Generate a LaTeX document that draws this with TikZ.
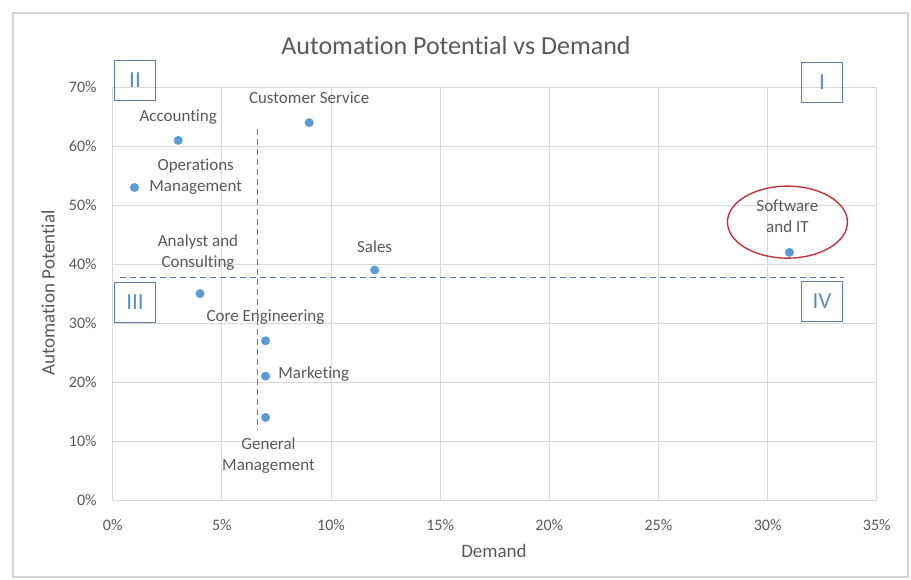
\documentclass[tikz,border=0pt]{standalone}
\usepackage{fontspec}
\setmainfont{Carlito}[Ligatures=NoCommon]
\usepackage{tikz}
\usetikzlibrary{positioning, calc}
\definecolor{dotblue}{HTML}{5B9BD5}
\definecolor{txtgray}{HTML}{595959}
\definecolor{gridgray}{HTML}{D9D9D9}
\definecolor{framegray}{HTML}{D4D4D4}
\definecolor{boxblue}{HTML}{5A7FA8}
\definecolor{quadblue}{HTML}{5B8FCB}
\definecolor{splitblue}{HTML}{4F7FB8}
\definecolor{ringred}{HTML}{C8323A}
\tikzstyle{datadot}=[circle,fill=dotblue,inner sep=0pt,minimum size=9pt]
\tikzstyle{ptlabel}=[inner sep=0pt,text depth=0pt,align=center,text=txtgray,
font=\fontsize{17}{21}\selectfont]
\tikzstyle{ticklabel}=[inner sep=0pt,text=txtgray,font=\fontsize{16}{18}\selectfont]
\tikzstyle{axistitle}=[inner sep=0pt,text=txtgray,font=\fontsize{19}{21}\selectfont]
\tikzstyle{quadbox}=[rectangle,draw=boxblue,line width=1pt,minimum width=41pt,
minimum height=40pt,inner sep=0pt,text=quadblue,font=\fontsize{23}{25}\selectfont]
\tikzstyle{splitline}=[splitblue,line width=1pt,dash pattern=on 6pt off 4pt]
\tikzstyle{gridline}=[gridgray,line width=1pt]

\begin{document}
\begin{tikzpicture}[x=1pt,y=-1pt]
    \useasboundingbox (0,0) rectangle (911,580);
    \draw[framegray,line width=2pt] (13,13) rectangle (908,577);
    
    \node[text=txtgray,inner sep=0pt,font=\fontsize{26}{28}\selectfont] (title) at (456,46) {Automation Potential vs Demand};
    \node[axistitle,rotate=90] (ytitle) at (48,293) {Automation Potential};
    \node[axistitle] (xtitle) at (494,551) {Demand};
    
    % plot area: 0..35% demand, 0..70% automation
    \begin{scope}[shift={(112.7,500)},x=21.83pt,y=5.896pt]
    \draw[gridline] (0,0) grid[xstep=5,ystep=10] (35,70);
    
    \node[ticklabel,anchor=east] (y0) at (-0.73,0) {0\%};
    \node[ticklabel,anchor=east] (y10) at (-0.73,10) {10\%};
    \node[ticklabel,anchor=east] (y20) at (-0.73,20) {20\%};
    \node[ticklabel,anchor=east] (y30) at (-0.73,30) {30\%};
    \node[ticklabel,anchor=east] (y40) at (-0.73,40) {40\%};
    \node[ticklabel,anchor=east] (y50) at (-0.73,50) {50\%};
    \node[ticklabel,anchor=east] (y60) at (-0.73,60) {60\%};
    \node[ticklabel,anchor=east] (y70) at (-0.73,70) {70\%};
    
    \node[ticklabel] (x0) at (0,-4.2) {0\%};
    \node[ticklabel] (x5) at (5,-4.2) {5\%};
    \node[ticklabel] (x10) at (10,-4.2) {10\%};
    \node[ticklabel] (x15) at (15,-4.2) {15\%};
    \node[ticklabel] (x20) at (20,-4.2) {20\%};
    \node[ticklabel] (x25) at (25,-4.2) {25\%};
    \node[ticklabel] (x30) at (30,-4.2) {30\%};
    \node[ticklabel] (x35) at (35,-4.2) {35\%};
    
    % quadrant split lines
    \coordinate (vtop) at (6.65,63);
    \coordinate (vbot) at (6.65,11.9);
    \coordinate (hleft) at (0.33,37.7);
    \coordinate (hright) at (33.5,37.7);
    \draw[splitline] (vtop) -- (vbot);
    \draw[splitline] (hleft) -- (hright);
    
    \node[datadot] (acc) at (3,61) {};
    \node[datadot] (cs) at (9,64) {};
    \node[datadot] (om) at (1,53) {};
    \node[datadot] (ac) at (4,35) {};
    \node[datadot] (sales) at (12,39) {};
    \node[datadot] (sit) at (31,42) {};
    \node[datadot] (ce) at (7,27) {};
    \node[datadot] (mkt) at (7,21) {};
    \node[datadot] (gm) at (7,14) {};
    
    \node[ptlabel, above=14pt of acc] (accl) {Accounting};
    \node[ptlabel, above=14pt of cs] (csl) {Customer Service};
    \node[ptlabel, right=10pt of om, yshift=12.5pt] (oml) {Operations\\Management};
    \node[ptlabel, above=21pt of ac, xshift=-2pt] (acl) {Analyst and\\Consulting};
    \node[ptlabel, above=13pt of sales] (salesl) {Sales};
    \node[ptlabel, above=15pt of sit, xshift=-2pt] (sitl) {Software\\and IT};
    \node[ptlabel, above=14pt of ce] (cel) {Core Engineering};
    \node[ptlabel, right=8pt of mkt, yshift=4pt] (mktl) {Marketing};
    \node[ptlabel, below=15pt of gm, xshift=3pt] (gml) {General\\Management};
    
    \draw[ringred,line width=1.4pt] ([yshift=-6pt]sitl.center) ellipse [x radius=60pt, y radius=36pt];
    \end{scope}
    
    \node[quadbox] (q2) at (135,80.5) {II};
    \node[quadbox] (q1) at (822,82.5) {I};
    \node[quadbox] (q3) at (135,302.5) {III};
    \node[quadbox] (q4) at (822,301.5) {IV};
\end{tikzpicture}
\end{document}
